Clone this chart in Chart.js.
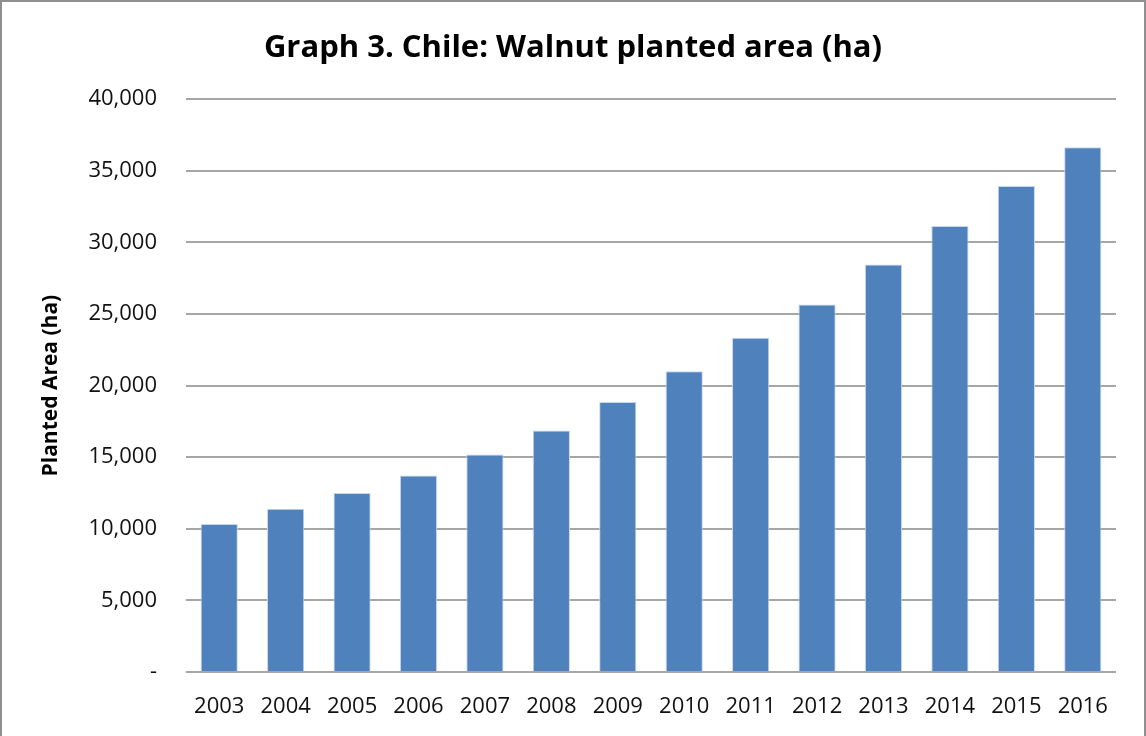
<!DOCTYPE html>
<html>
<head>
<meta charset="utf-8">
<script src="https://cdn.jsdelivr.net/npm/chart.js@4"></script>
<style>
  html, body { margin: 0; padding: 0; background: #fff; }
  #wrap {
    width: 1146px; height: 736px; box-sizing: border-box;
    border: 2px solid #8f8f8f; border-bottom: none;
  }
  canvas { display: block; }
</style>
</head>
<body>
<div id="wrap"><canvas id="walnutChart" width="1142" height="734"></canvas></div>
<script>
// Chile walnut planted area, hectares
const years = ["2003", "2004", "2005", "2006", "2007", "2008", "2009",
               "2010", "2011", "2012", "2013", "2014", "2015", "2016"];
const plantedArea = [10330, 11400, 12500, 13730, 15180, 16870, 18850,
                     21000, 23340, 25670, 28450, 31140, 33940, 36650];
const yTicks = [0, 5000, 10000, 15000, 20000, 25000, 30000, 35000, 40000];

const chartTitle = "Graph 3. Chile: Walnut planted area (ha)";
const yAxisTitle = "Planted Area (ha)";

const ctx = document.getElementById("walnutChart").getContext("2d");

new Chart(ctx, {
    type: "bar",
    data: {
        labels: years,
        datasets: [{
            label: "Planted area",
            data: plantedArea,
            backgroundColor: "#4f81bd",
            borderColor: "#c6d6ec",
            borderWidth: 1,
            barPercentage: 0.56,
            categoryPercentage: 1.0
        }]
    },
    options: {
        responsive: false,
        animation: false,
        // symmetric padding keeps the title centred on the page
        layout: { padding: { left: 28, right: 28, top: 0, bottom: 0 } },
        plugins: {
            legend: { display: false },
            tooltip: { enabled: false },
            title: {
                display: true,
                text: chartTitle,
                color: "#000",
                font: { family: "Open Sans", size: 31, weight: "bold", lineHeight: 1.2 },
                padding: { top: 28, bottom: 32 }
            }
        },
        scales: {
            x: {
                grid: { display: false, drawTicks: false },
                border: { display: false },
                ticks: {
                    color: "#111",
                    font: { family: "Open Sans", size: 22 },
                    padding: 22,
                    maxRotation: 0
                },
                afterFit: (scale) => { scale.height = 64; }
            },
            y: {
                min: 0,
                max: 40000,
                afterBuildTicks: (scale) => {
                    scale.ticks = yTicks.map(v => ({ value: v }));
                },
                grid: { color: "#a6a6a6", lineWidth: 2, drawTicks: false },
                border: { display: false },
                ticks: {
                    color: "#111",
                    font: { family: "Open Sans", size: 22 },
                    padding: 29,
                    callback: (v) => v === 0 ? "-" : v.toLocaleString("en-US")
                },
                title: {
                    display: true,
                    text: yAxisTitle,
                    color: "#000",
                    font: { family: "Open Sans", size: 21, weight: "bold" },
                    padding: { top: 8, bottom: 0 }
                },
                afterFit: (scale) => { scale.width = 156; }
            }
        }
    }
});
</script>
</body>
</html>
